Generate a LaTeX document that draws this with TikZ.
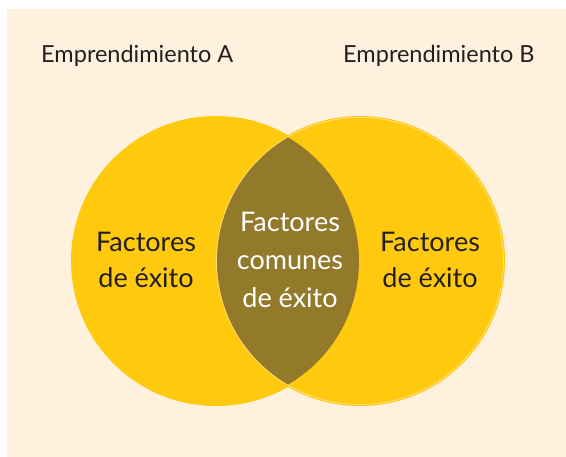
\documentclass[tikz,border=0pt]{standalone}
\usepackage{fontspec}
\setmainfont{Lato}
\definecolor{cream}{HTML}{FEF2DE}
\definecolor{gold}{HTML}{FFC90E}
\definecolor{olive}{HTML}{927A2A}
\definecolor{ink}{HTML}{231F20}
\definecolor{paleline}{HTML}{FFE08A}

\begin{document}
\begin{tikzpicture}[x=1pt,y=-1pt,
   title/.style={text=ink, inner sep=0pt, anchor=base west, font=\fontsize{23.5}{28}\selectfont},
   factor/.style={text=ink, inner sep=0pt, align=center, font=\fontsize{27}{36}\selectfont},
   common/.style={text=white, inner sep=0pt, align=center, font=\fontsize{27}{38}\selectfont}]
   \useasboundingbox (0,0) rectangle (566,457);
   \fill[cream] (7,9) rectangle (566,457);

   \fill[gold] (216,261) circle (145);
   \fill[gold] (360,261) circle (145);
   \draw[paleline, line width=0.8] (360,261) circle (143.5);
   \begin{scope}
     \clip (216,261) circle (143);
     \fill[olive] (360,261) circle (143);
   \end{scope}

   \node[title] (titleA) at (41,63) {Emprendimiento A};
   \node[title] (titleB) at (343,63) {Emprendimiento B};
   \node[factor] (factA) at (146,260) {Factores\\de éxito};
   \node[factor] (factB) at (430,260) {Factores\\de éxito};
   \node[common] (factAB) at (290,260) {Factores\\comunes\\de éxito};
\end{tikzpicture}
\end{document}
